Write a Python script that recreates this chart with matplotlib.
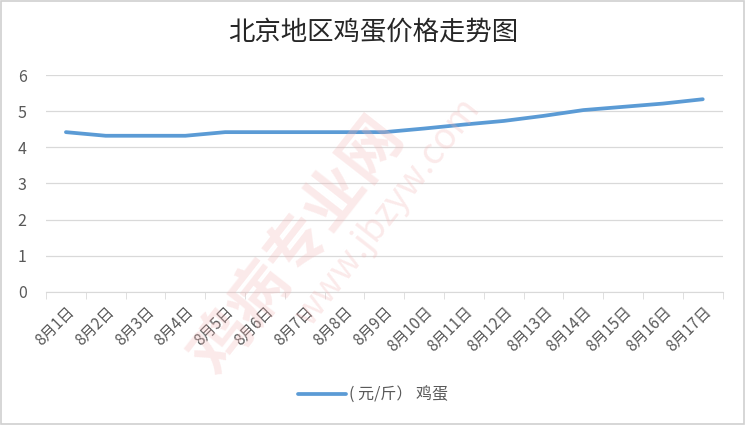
import matplotlib.pyplot as plt
from matplotlib.patches import Rectangle

plt.rcParams["font.family"] = ["Noto Sans CJK SC", "DejaVu Sans"]

DAYS = [f"8月{d}日" for d in range(1, 18)]
PRICE = [4.42, 4.32, 4.32, 4.32, 4.42, 4.42, 4.42, 4.42, 4.42,
         4.52, 4.63, 4.73, 4.87, 5.03, 5.12, 5.21, 5.33]
YTICKS = [0, 1, 2, 3, 4, 5, 6]

BLUE = "#5b9bd5"
GRID = "#d9d9d9"
TXT = "#595959"

fig = plt.figure(figsize=(7.46, 4.25), dpi=100)
fig.patches.append(Rectangle((0.002, 0.003), 0.995, 0.994,
                             transform=fig.transFigure, fill=False,
                             edgecolor="#d0d0d0", lw=1.2))

# faint watermark
fig.text(0.40, 0.42, "鸡病专业网", fontsize=44, fontweight="bold",
         color="#f2b3b3", alpha=0.28, rotation=52, ha="center",
         va="center")
fig.text(0.52, 0.50, "www.jbzyw.com", fontsize=26, color="#f2b3b3",
         alpha=0.28, rotation=52, ha="center", va="center")

ax = fig.add_axes([0.0617, 0.313, 0.907, 0.5105])
x = list(range(len(DAYS)))
ax.plot(x, PRICE, color=BLUE, lw=2.7, solid_capstyle="round",
        label="( 元/斤） 鸡蛋")

ax.set_xlim(-0.5, len(DAYS) - 0.5)
ax.set_ylim(0, 6)
ax.set_yticks(YTICKS)
ax.grid(axis="y", color=GRID, lw=0.9)
ax.set_axisbelow(True)
for s in ("top", "right", "left"):
    ax.spines[s].set_visible(False)
ax.spines["bottom"].set_color(GRID)

ax.set_xticks(x)
ax.set_xticklabels(DAYS, rotation=45, ha="right", rotation_mode="anchor",
                   fontsize=11, color=TXT)
ax.set_xticks([i - 0.5 for i in range(len(DAYS) + 1)], minor=True)
ax.tick_params(axis="x", which="major", length=0, pad=8)
ax.tick_params(axis="x", which="minor", length=5, color=GRID)
ax.tick_params(axis="y", length=0, labelsize=11.5, labelcolor=TXT, pad=14)

fig.text(0.5, 0.925, "北京地区鸡蛋价格走势图", fontsize=19, color="#262626",
         ha="center", va="center")

fig.legend(loc="center", bbox_to_anchor=(0.5, 0.07), frameon=False,
           fontsize=11.5, labelcolor=TXT, handlelength=3.0,
           handletextpad=0.2)

fig.savefig("out.png", dpi=100)
